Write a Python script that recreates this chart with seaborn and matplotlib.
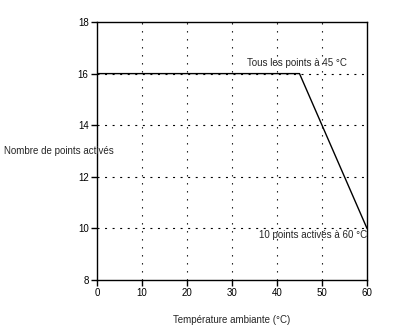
import matplotlib
matplotlib.use("Agg")
import matplotlib.pyplot as plt
import seaborn as sns
import pandas as pd

temperature = [0, 45, 60]
points = [16, 16, 10]
x_ticks = [0, 10, 20, 30, 40, 50, 60]
y_ticks = [8, 10, 12, 14, 16, 18]

sns.set_style("white")
plt.rcParams['font.family'] = ['Liberation Sans', 'DejaVu Sans']

df = pd.DataFrame({"temp": temperature, "pts": points})

fig = plt.figure(figsize=(4.08, 3.28), dpi=100)
ax = fig.add_axes([97/408, 48/328, 270/408, 258/328])

for xv in x_ticks[1:-1]:
    ax.axvline(xv, color="black", lw=0.8, ls=(0, (1.2, 6)), zorder=1)
for yv in y_ticks[1:-1]:
    ax.axhline(yv, color="black", lw=0.8, ls=(0, (1.8, 5)), zorder=1)

sns.lineplot(data=df, x="temp", y="pts", ax=ax, color="black", lw=1.0, zorder=3)

ax.set_xlim(0, 60)
ax.set_ylim(8, 18)
ax.set_xticks(x_ticks)
ax.set_yticks(y_ticks)
ax.tick_params(axis="both", direction="out", length=4, width=1, labelsize=7, pad=2,
               colors="black", bottom=True, left=True)
for s in ax.spines.values():
    s.set_color("black")
    s.set_linewidth(1.0)

ax.set_xlabel("")
ax.set_ylabel("")
fig.text(232/408, 1 - 320/328, "Température ambiante (°C)", ha="center", va="center", fontsize=7)
fig.text(4/408, 1 - 151/328, "Nombre de points activés", ha="left", va="center", fontsize=7)

ax.text(33.3, 16.2, "Tous les points à 45 °C", ha="left", va="bottom", fontsize=7)
ax.text(60, 9.95, "10 points activés à 60 °C", ha="right", va="top", fontsize=7)

fig.savefig("out.png", dpi=100)
